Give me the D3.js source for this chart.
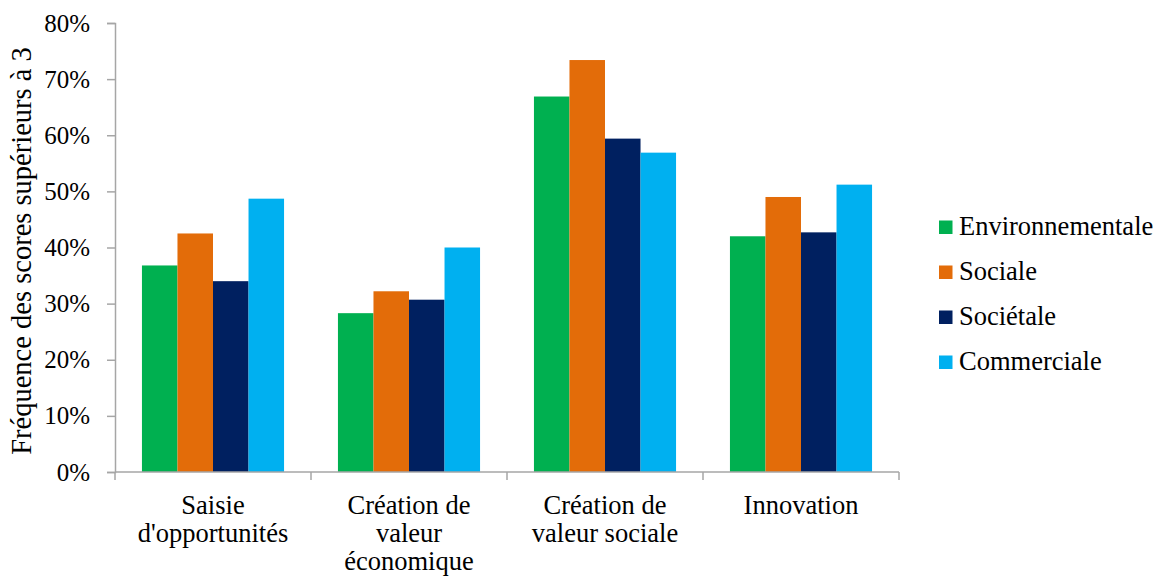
<!DOCTYPE html>
<html><head><meta charset="utf-8">
<script src="https://cdn.jsdelivr.net/npm/d3@7"></script>
<style>
html,body{margin:0;padding:0;background:#fff;}
</style></head>
<body><svg id="c" width="1158" height="576" style="font-family:'Liberation Serif','DejaVu Serif',serif"></svg>
<script>
const categories = ["Saisie d'opportunités", "Création de valeur économique", "Création de valeur sociale", "Innovation"];
const seriesNames = ["Environnementale", "Sociale", "Sociétale", "Commerciale"];
const environnementale = [36.8, 28.3, 66.9, 42.0];
const sociale = [42.5, 32.2, 73.4, 49.0];
const societale = [34.0, 30.7, 59.4, 42.7];
const commerciale = [48.7, 40.0, 56.9, 51.2];
const seriesColors = ["#00B050", "#E36C09", "#002060", "#00B0F0"];
const yTicks = [0, 10, 20, 30, 40, 50, 60, 70, 80];
const yTitle = "Fréquence des scores supérieurs à 3";

const FONT = "'Liberation Serif', 'DejaVu Serif', serif";
const seriesValues = [environnementale, sociale, societale, commerciale];
const svg = d3.select("#c");
const axisColor = "#A6A6A6";
const fs = 26.5;

const x = d3.scaleBand().domain(categories).range([115, 899]).paddingInner(0.275).paddingOuter(0.1375);
const xs = d3.scaleBand().domain(seriesNames).range([0, x.bandwidth()]);
const y = d3.scaleLinear().domain([0, 80]).range([472, 23]);

// bars
categories.forEach((c, ci) => {
  const g = svg.append("g").attr("transform", `translate(${x(c)},0)`);
  g.selectAll("rect").data(seriesNames).join("rect")
    .attr("x", s => xs(s))
    .attr("width", xs.bandwidth())
    .attr("y", (s, si) => y(seriesValues[si][ci]))
    .attr("height", (s, si) => y(0) - y(seriesValues[si][ci]))
    .attr("fill", (s, si) => seriesColors[si]);
});

// y axis
const yAxis = d3.axisLeft(y).tickValues(yTicks).tickSize(8).tickPadding(17).tickFormat(d => d + "%");
const ya = svg.append("g").attr("transform", "translate(115,0)").call(yAxis);
ya.attr("font-family", null).attr("font-size", null);
ya.select(".domain").attr("stroke", axisColor).attr("stroke-width", 1.5);
ya.selectAll(".tick line").attr("stroke", axisColor).attr("stroke-width", 1.5);
ya.selectAll(".tick text").style("font-size", "25px").style("font-family", FONT).attr("fill", "#000");

// x axis
const xg = svg.append("g");
xg.append("line").attr("x1", 115).attr("x2", 899).attr("y1", y(0)).attr("y2", y(0))
  .attr("stroke", axisColor).attr("stroke-width", 1.5);
const boundaries = d3.range(categories.length + 1).map(i => 115 + i * (784 / categories.length));
xg.selectAll(".xt").data(boundaries).join("line")
  .attr("x1", d => d).attr("x2", d => d).attr("y1", y(0)).attr("y2", y(0) + 8)
  .attr("stroke", axisColor).attr("stroke-width", 1.5);

// category labels with wrapping
categories.forEach(c => {
  const cx = x(c) + x.bandwidth() / 2;
  const t = svg.append("text").attr("text-anchor", "middle").style("font-size", fs + "px").style("font-family", FONT);
  const words = c.split(" ");
  let lines = [], line = [];
  const tmp = svg.append("text").style("font-size", fs + "px").style("font-family", FONT);
  words.forEach(w => {
    const trial = line.concat([w]).join(" ");
    tmp.text(trial);
    if (tmp.node().getComputedTextLength() > 172 && line.length) { lines.push(line.join(" ")); line = [w]; }
    else line.push(w);
  });
  lines.push(line.join(" "));
  tmp.remove();
  lines.forEach((l, i) => t.append("tspan").attr("x", cx).attr("y", 514 + i * 28).text(l));
});

// y title
svg.append("text").attr("transform", `translate(31,251) rotate(-90)`).attr("text-anchor", "middle")
  .style("font-size", "28.5px").style("font-family", FONT).text(yTitle);

// legend
const lg = svg.append("g");
seriesNames.forEach((s, i) => {
  const cy = 227 + i * 45;
  lg.append("rect").attr("x", 939).attr("y", cy - 6.5).attr("width", 13.5).attr("height", 13.5).attr("fill", seriesColors[i]);
  lg.append("text").attr("x", 959).attr("y", cy + 8).style("font-size", fs + "px").style("font-family", FONT).text(s);
});
</script></body></html>
